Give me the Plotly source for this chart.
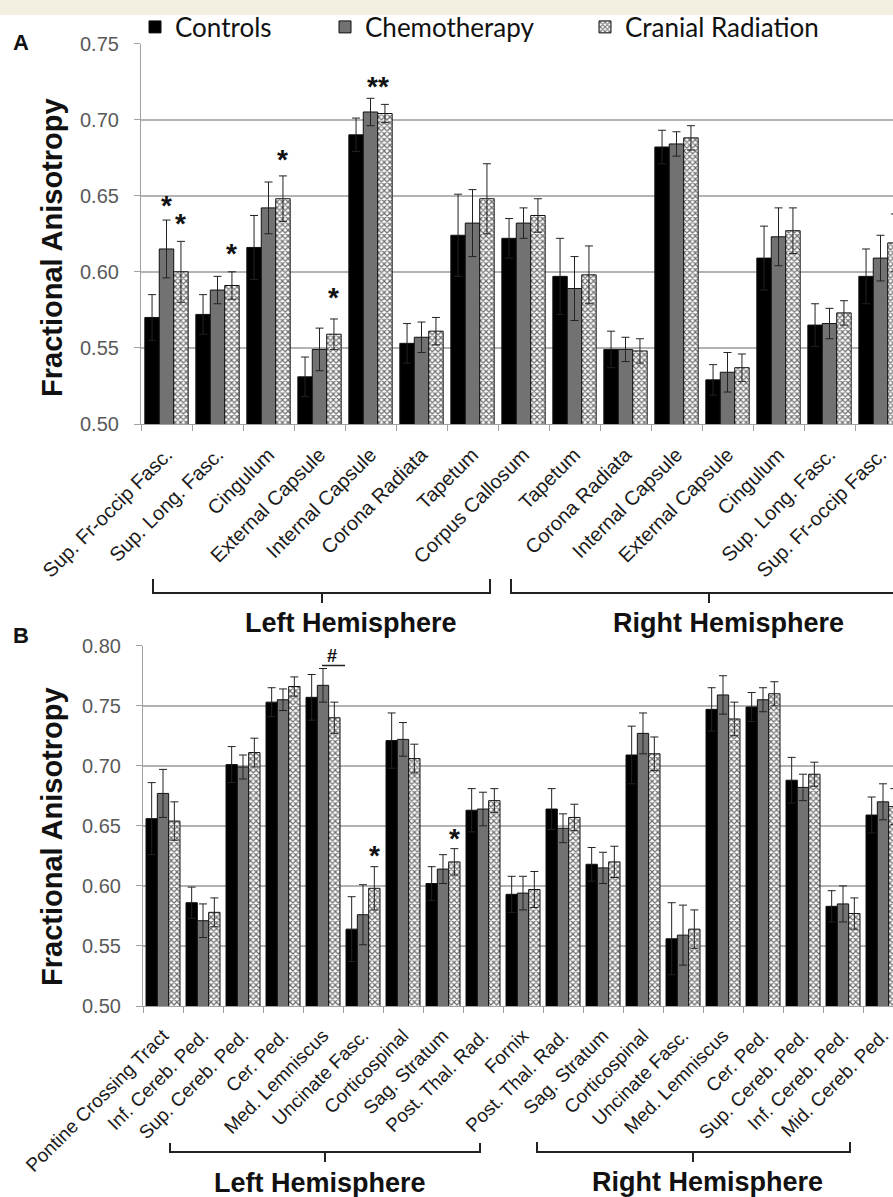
import plotly.graph_objects as go

W, H = 893, 1197

# ---------------- Panel A data ----------------
a_labels = ["Sup. Fr-occip Fasc.", "Sup. Long. Fasc.", "Cingulum", "External Capsule",
            "Internal Capsule", "Corona Radiata", "Tapetum", "Corpus Callosum", "Tapetum",
            "Corona Radiata", "Internal Capsule", "External Capsule", "Cingulum",
            "Sup. Long. Fasc.", "Sup. Fr-occip Fasc."]
a_side = ["L"] * 7 + ["M"] + ["R"] * 7
a_controls = [0.570, 0.572, 0.616, 0.531, 0.690, 0.553, 0.624, 0.622, 0.597, 0.549, 0.682, 0.529, 0.609, 0.565, 0.597]
a_controls_sd = [0.015, 0.013, 0.021, 0.013, 0.011, 0.013, 0.027, 0.013, 0.025, 0.012, 0.011, 0.010, 0.021, 0.014, 0.018]
a_chemo = [0.615, 0.588, 0.642, 0.549, 0.705, 0.557, 0.632, 0.632, 0.589, 0.549, 0.684, 0.534, 0.623, 0.566, 0.609]
a_chemo_sd = [0.019, 0.009, 0.017, 0.014, 0.009, 0.010, 0.022, 0.010, 0.021, 0.008, 0.008, 0.013, 0.019, 0.010, 0.015]
a_cranial = [0.600, 0.591, 0.648, 0.559, 0.704, 0.561, 0.648, 0.637, 0.598, 0.548, 0.688, 0.537, 0.627, 0.573, 0.619]
a_cranial_sd = [0.020, 0.009, 0.015, 0.010, 0.006, 0.009, 0.023, 0.011, 0.019, 0.008, 0.008, 0.009, 0.015, 0.008, 0.019]

# ---------------- Panel B data ----------------
b_labels = ["Pontine Crossing Tract", "Inf. Cereb. Ped.", "Sup. Cereb. Ped.", "Cer. Ped.",
            "Med. Lemniscus", "Uncinate Fasc.", "Corticospinal", "Sag. Stratum", "Post. Thal. Rad.",
            "Fornix", "Post. Thal. Rad.", "Sag. Stratum", "Corticospinal", "Uncinate Fasc.",
            "Med. Lemniscus", "Cer. Ped.", "Sup. Cereb. Ped.", "Inf. Cereb. Ped.", "Mid. Cereb. Ped."]
b_side = ["M"] + ["L"] * 8 + ["M"] + ["R"] * 8 + ["M"]
b_controls = [0.656, 0.586, 0.701, 0.753, 0.757, 0.564, 0.721, 0.602, 0.663, 0.593, 0.664, 0.618, 0.709, 0.556, 0.747, 0.749, 0.688, 0.583, 0.659]
b_controls_sd = [0.030, 0.013, 0.015, 0.012, 0.019, 0.027, 0.023, 0.014, 0.018, 0.015, 0.017, 0.014, 0.024, 0.030, 0.018, 0.012, 0.019, 0.013, 0.015]
b_chemo = [0.677, 0.571, 0.699, 0.755, 0.767, 0.576, 0.722, 0.614, 0.664, 0.594, 0.648, 0.615, 0.727, 0.559, 0.759, 0.755, 0.682, 0.585, 0.670]
b_chemo_sd = [0.020, 0.014, 0.010, 0.009, 0.014, 0.025, 0.014, 0.012, 0.014, 0.014, 0.012, 0.013, 0.017, 0.025, 0.016, 0.010, 0.011, 0.015, 0.015]
b_cranial = [0.654, 0.578, 0.711, 0.766, 0.740, 0.598, 0.706, 0.620, 0.671, 0.597, 0.657, 0.620, 0.710, 0.564, 0.739, 0.760, 0.693, 0.577, 0.666]
b_cranial_sd = [0.016, 0.012, 0.012, 0.008, 0.013, 0.018, 0.012, 0.011, 0.010, 0.015, 0.011, 0.013, 0.014, 0.016, 0.014, 0.010, 0.010, 0.013, 0.015]

groups = ["Controls", "Chemotherapy", "Cranial Radiation"]

# significance marks: (category index, offset within group, value, text)
a_marks = [(0, 0.0, 0.6474, "*"), (0, 0.283, 0.6355, "*"), (1, 0.283, 0.6158, "*"),
           (2, 0.283, 0.678, "*"), (3, 0.283, 0.5868, "*"), (4, 0.14, 0.7257, "**")]
b_marks = [(5, 0.283, 0.630, "*"), (7, 0.283, 0.6442, "*")]

a_keys = [f"{s}{i}:{n}" for i, (s, n) in enumerate(zip(a_side, a_labels))]
b_keys = [f"{s}{i}:{n}" for i, (s, n) in enumerate(zip(b_side, b_labels))]

FONT = "Liberation Sans, Arial, sans-serif"
EDGE = "#111111"
styles = [
    dict(color="#000000", line=dict(color=EDGE, width=1)),
    dict(color="#727272", line=dict(color=EDGE, width=1)),
    dict(color="white", line=dict(color=EDGE, width=1),
         pattern=dict(shape="x", fgcolor="#6e6e6e", bgcolor="white", size=4, solidity=0.5)),
]
err_style = dict(type="data", visible=True, color="#222222", thickness=1, width=4)

fig = go.Figure()
a_series = [(a_controls, a_controls_sd), (a_chemo, a_chemo_sd), (a_cranial, a_cranial_sd)]
b_series = [(b_controls, b_controls_sd), (b_chemo, b_chemo_sd), (b_cranial, b_cranial_sd)]
legends = ["legend", "legend2", "legend3"]
for k, (name, (v, sd)) in enumerate(zip(groups, a_series)):
    fig.add_trace(go.Bar(x=a_keys, y=v, name=name, marker=styles[k],
                         error_y=dict(array=sd, **err_style),
                         xaxis="x", yaxis="y", legend=legends[k], showlegend=True))
for k, (name, (v, sd)) in enumerate(zip(groups, b_series)):
    fig.add_trace(go.Bar(x=b_keys, y=v, name=name, marker=styles[k],
                         error_y=dict(array=sd, **err_style),
                         xaxis="x2", yaxis="y2", showlegend=False))

def py(p):
    return 1 - p / H

def px(p):
    return p / W

axis_common = dict(showline=True, linecolor="#a0a0a0", linewidth=1.2, ticks="outside",
                   tickcolor="#a0a0a0", ticklen=6, automargin=False)
xa_common = dict(type="category", tickson="boundaries", tickangle=-45, showgrid=False,
                 ticklabelstandoff=10, **axis_common)
ya_common = dict(dtick=0.05, tickformat=".2f", showgrid=True, gridcolor="#b3b3b3", gridwidth=1.5,
                 tickfont=dict(family=FONT, size=20, color="#5a5a5a"), zeroline=False,
                 ticklabelstandoff=11, **axis_common)

fig.update_layout(
    template="none",
    width=W, height=H, margin=dict(l=0, r=0, t=0, b=0, autoexpand=False),
    paper_bgcolor="white", plot_bgcolor="white",
    barmode="group", bargap=0.15, bargroupgap=0,
    xaxis=dict(domain=[px(141), 1], range=[-0.5, -0.5 + (W - 141) / 51.0],
               tickmode="array", tickvals=a_keys, ticktext=a_labels, anchor="y",
               tickfont=dict(family=FONT, size=20, color="#1a1a1a"), **xa_common),
    yaxis=dict(domain=[py(424), py(43.5)], range=[0.5, 0.75], anchor="x", **ya_common),
    xaxis2=dict(domain=[px(143), 1], range=[-0.5, -0.5 + (W - 143) / 40.0],
                tickmode="array", tickvals=b_keys, ticktext=b_labels, anchor="y2",
                tickfont=dict(family=FONT, size=19, color="#1a1a1a"), **xa_common),
    yaxis2=dict(domain=[py(1006), py(645.7)], range=[0.5, 0.80], anchor="x2", **ya_common),
    font=dict(family=FONT),
)

leg_font = dict(family="Lato, sans-serif", size=26, color="#111111")
for name, xp in zip(legends, [135, 325, 585]):
    fig.update_layout({name: dict(x=px(xp), y=py(27), xanchor="left", yanchor="middle",
                                  orientation="h", font=leg_font, bgcolor="rgba(0,0,0,0)",
                                  borderwidth=0)})

shapes = [dict(type="rect", xref="paper", yref="paper", x0=0, x1=1, y0=py(15), y1=1,
               fillcolor="#f4f0e1", line=dict(width=0), layer="below")]

def bracket(x0, x1, xc, ytop, ybot, ytick):
    path = (f"M{px(x0)},{py(ytop)} L{px(x0)},{py(ybot)} L{px(x1)},{py(ybot)} L{px(x1)},{py(ytop)} "
            f"M{px(xc)},{py(ybot)} L{px(xc)},{py(ytick)}")
    return dict(type="path", xref="paper", yref="paper", path=path,
                line=dict(color="#222222", width=2))

shapes += [bracket(153, 490, 322, 579, 593, 603), bracket(511, 907, 709, 579, 593, 603),
           bracket(170, 480, 325, 1143, 1152, 1162), bracket(537, 850, 693, 1142, 1152, 1162)]
# "#" underline in panel B (Med. Lemniscus, chemo vs cranial)
shapes.append(dict(type="line", xref="x2", yref="y2", x0=3.975, x1=4.55, y0=0.7836, y1=0.7836,
                   line=dict(color="#222222", width=1.5)))

ann = []
for (i, off, val, txt) in a_marks:
    ann.append(dict(x=i + off, y=val, xref="x", yref="y", text=f"<b>{txt}</b>", showarrow=False,
                    font=dict(family=FONT, size=28, color="#111111"), yshift=-6))
for (i, off, val, txt) in b_marks:
    ann.append(dict(x=i + off, y=val, xref="x2", yref="y2", text=f"<b>{txt}</b>", showarrow=False,
                    font=dict(family=FONT, size=28, color="#111111"), yshift=-6))
ann.append(dict(x=4.225, y=0.7911, xref="x2", yref="y2", text="<b>#</b>", showarrow=False,
                font=dict(family=FONT, size=18, color="#111111")))

def paper_text(txt, xx, yy, size, angle=0):
    return dict(x=px(xx), y=py(yy), xref="paper", yref="paper", text=f"<b>{txt}</b>",
                xanchor="center", yanchor="middle", textangle=angle, showarrow=False,
                font=dict(family=FONT, size=size, color="#111111"))

ann.append(paper_text("Fractional Anisotropy", 52, 248, 29, -90))
ann.append(paper_text("Fractional Anisotropy", 52, 837, 29, -90))
ann.append(paper_text("A", 21, 42, 22))
ann.append(paper_text("B", 21, 635, 22))
for txt, xx, yy in [("Left Hemisphere", 351, 623), ("Right Hemisphere", 728, 623),
                    ("Left Hemisphere", 320, 1183), ("Right Hemisphere", 707, 1182)]:
    ann.append(paper_text(txt, xx, yy, 27))

fig.update_layout(shapes=shapes, annotations=ann)
fig.write_html("out.html", config={"displayModeBar": False},
               post_script="document.body.style.margin='0';document.body.style.padding='0';")
